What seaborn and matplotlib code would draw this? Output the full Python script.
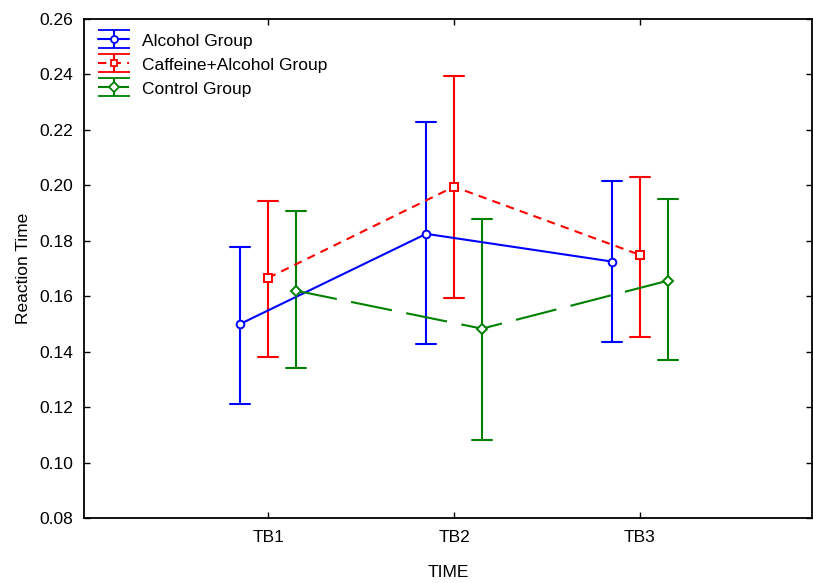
import numpy as np
import pandas as pd
import matplotlib
matplotlib.use("Agg")
import matplotlib.pyplot as plt
import seaborn as sns
from matplotlib.legend_handler import HandlerErrorbar

times = ["TB1", "TB2", "TB3"]
groups = ["Alcohol Group", "Caffeine+Alcohol Group", "Control Group"]
colors = ["#0000ff", "#ff0000", "#008000"]

alcohol_mean = [0.150, 0.1825, 0.1725]
alcohol_low = [0.1210, 0.1428, 0.1435]
alcohol_high = [0.1778, 0.2227, 0.2014]

caff_mean = [0.1666, 0.1995, 0.1749]
caff_low = [0.1381, 0.1594, 0.1453]
caff_high = [0.1945, 0.2393, 0.2031]

control_mean = [0.1620, 0.1483, 0.1656]
control_low = [0.1341, 0.1081, 0.1370]
control_high = [0.1906, 0.1880, 0.1950]

series = {
    groups[0]: (alcohol_low, alcohol_mean, alcohol_high),
    groups[1]: (caff_low, caff_mean, caff_high),
    groups[2]: (control_low, control_mean, control_high),
}
rows = []
for g, (lo, me, hi) in series.items():
    for i, t in enumerate(times):
        for v in (lo[i], me[i], hi[i]):
            rows.append({"Group": g, "TIME": t, "RT": v})
df = pd.DataFrame(rows)

sns.set_style("ticks")
plt.rcParams["font.family"] = ["Liberation Sans", "DejaVu Sans"]
plt.rcParams["text.color"] = "black"
plt.rcParams["axes.labelcolor"] = "black"

fig = plt.figure(figsize=(8.13, 5.83), dpi=100)
ax = fig.add_axes([84 / 813, 65 / 583, 728 / 813, 499 / 583])

sns.pointplot(
    data=df, x="TIME", y="RT", hue="Group", order=times, hue_order=groups,
    estimator="median", errorbar=("pi", 100), dodge=0.3,
    palette=colors, markers=["o", "s", "D"], linestyles=["-", "--", "--"],
    capsize=0.11, err_kws={"linewidth": 1.5}, linewidth=1.5,
    markersize=5.5, ax=ax, legend=False,
)

dash_map = {"#0000ff": None, "#ff0000": (4, 3), "#008000": (20, 7)}
for ln in ax.lines:
    m = ln.get_marker()
    if m not in (None, "None", "", " "):
        c = matplotlib.colors.to_hex(ln.get_color())
        ln.set_markerfacecolor("white")
        ln.set_markeredgewidth(1.4)
        ln.set_markersize(5.5)
        ln.set_zorder(4)
        d = dash_map.get(c)
        if d is not None:
            ln.set_dashes(d)

ax.set_xlim(-0.99, 2.925)
ax.set_ylim(0.08, 0.26)
yt = np.arange(0.08, 0.2601, 0.02)
ax.set_yticks(yt)
ax.set_yticklabels([f"{v:.2f}" for v in yt])
ax.tick_params(direction="in", top=True, right=True, length=4, width=1,
               labelsize=12.5, colors="black")
ax.tick_params(axis="y", pad=8)
ax.tick_params(axis="x", pad=9)
for s in ax.spines.values():
    s.set_visible(True)
    s.set_linewidth(1.3)
    s.set_color("black")
ax.set_xlabel("TIME", fontsize=12.5, labelpad=14, color="black")
ax.set_ylabel("Reaction Time", fontsize=12.5, labelpad=6, color="black")

handles = []
for g, c, mk, ls in zip(groups, colors, ["o", "s", "D"], ["-", (0, (4, 3)), (0, (20, 7))]):
    h = ax.errorbar([np.nan], [np.nan], yerr=[np.nan], color=c, marker=mk,
                    markersize=5, mfc="white", mec=c, mew=1.3, linestyle=ls,
                    linewidth=1.5, capsize=11.5, elinewidth=1.5, label=g)
    handles.append(h)
leg = ax.legend(handles=handles, labels=groups, loc="upper left",
                bbox_to_anchor=(14 / 728, 1 - 13 / 499),
                frameon=False, fontsize=12.5, handlelength=1.8,
                handleheight=1.0, labelspacing=0.42, borderaxespad=0.0,
                borderpad=0.0, handletextpad=0.75, labelcolor="black",
                handler_map={type(handles[0]): HandlerErrorbar(yerr_size=0.5)})

fig.savefig("out.png", dpi=100)
